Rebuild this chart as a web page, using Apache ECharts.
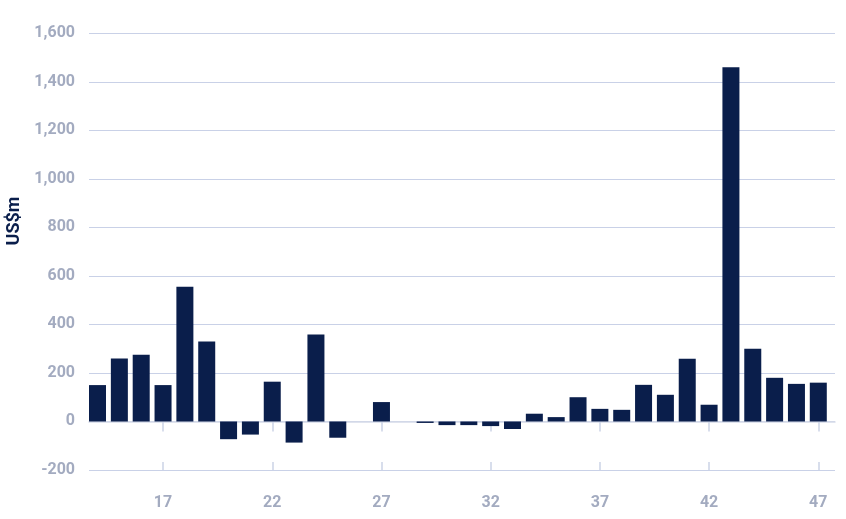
<!DOCTYPE html>
<html>
<head>
<meta charset="utf-8">
<script src="https://cdn.jsdelivr.net/npm/echarts@6/dist/echarts.min.js"></script>
<style>
html,body{margin:0;padding:0;background:#fff;}
#chart{width:846px;height:519px;}
</style>
</head>
<body>
<div id="chart"></div>
<script>
var categories = [14,15,16,17,18,19,20,21,22,23,24,25,26,27,28,29,30,31,32,33,34,35,36,37,38,39,40,41,42,43,44,45,46,47];
var values = [150,260,275,150,555,330,-73,-54,164,-87,358,-67,0,80,0,-6,-15,-15,-19,-31,32,18,100,52,48,151,110,259,69,1460,300,180,155,160];
var xTickLabels = [17,22,27,32,37,42,47];
var yMin = -200, yMax = 1600, yStep = 200;
var yAxisTitle = 'US$m';

var labelColor = '#a3abc0';
var navy = '#0a1e4b';
var seriesData = categories.map(function(c,i){return [c, values[i]];});

var chart = echarts.init(document.getElementById('chart'), null, {renderer:'canvas'});
var xCommon = {type:'value', min:13.61, max:47.765, splitLine:{show:false}};
chart.setOption({
  animation:false,
  grid:{left:89, right:11, top:33.3, bottom:49, containLabel:false},
  xAxis:[
    Object.assign({}, xCommon, {
      position:'bottom',
      axisLine:{show:true, lineStyle:{color:'#d5dae9', width:1.5}},
      axisTick:{show:true, customValues:xTickLabels, length:10, lineStyle:{color:'#ccd3e6', width:1.5}},
      axisLabel:{show:true, customValues:xTickLabels, margin:25, color:labelColor, fontFamily:'Roboto', fontWeight:'bold', fontSize:16}
    }),
    Object.assign({}, xCommon, {
      position:'bottom',
      axisLine:{show:false},
      axisTick:{show:true, inside:true, customValues:xTickLabels, length:8, lineStyle:{color:'#ccd3e6', width:1.5}},
      axisLabel:{show:false}
    })
  ],
  yAxis:{
    type:'value', min:yMin, max:yMax, interval:yStep,
    axisLine:{show:false}, axisTick:{show:false},
    splitLine:{show:true, lineStyle:{color:'#c9d1e7', width:1.2}},
    axisLabel:{margin:14, color:labelColor, fontFamily:'Roboto', fontWeight:'bold', fontSize:16,
      formatter:function(v){return v.toLocaleString('en-US');}}
  },
  graphic:[{
    type:'text', x:14, y:221, rotation:Math.PI/2,
    style:{text:yAxisTitle, fill:navy, font:'bold 18px Roboto', textAlign:'center', textVerticalAlign:'middle'}
  }],
  series:[{
    type:'bar', xAxisIndex:0, data:seriesData, barWidth:17,
    itemStyle:{color:navy}
  }]
});
</script>
</body>
</html>
